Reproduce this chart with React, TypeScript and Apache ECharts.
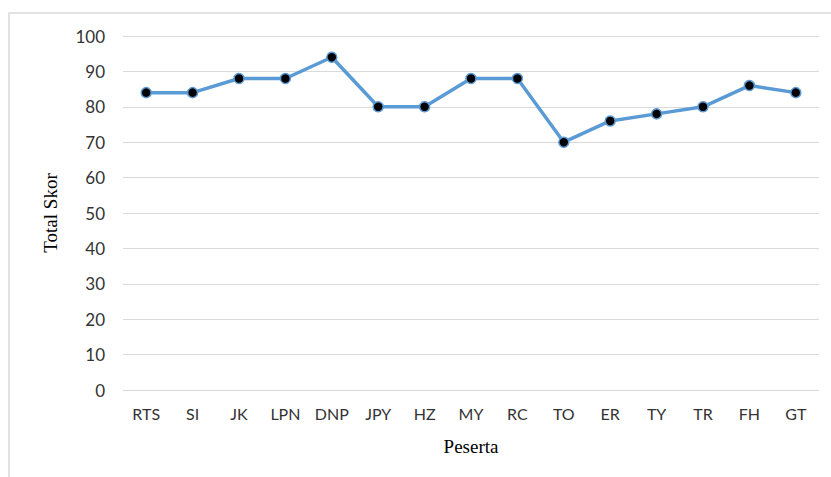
import React, { useEffect, useRef } from "react";
import * as echarts from "echarts";

const categories = ["RTS", "SI", "JK", "LPN", "DNP", "JPY", "HZ", "MY", "RC", "TO", "ER", "TY", "TR", "FH", "GT"];
const scores = [84, 84, 88, 88, 94, 80, 80, 88, 88, 70, 76, 78, 80, 86, 84];
const yMin = 0;
const yMax = 100;
const yInterval = 10;

export default function App() {
  const ref = useRef<HTMLDivElement>(null);
  useEffect(() => {
    document.body.style.margin = "0";
    if (!ref.current) return;
    const chart = echarts.init(ref.current, undefined, { renderer: "svg" });
    chart.setOption({
      animation: false,
      backgroundColor: "#ffffff",
      grid: { left: 123, right: 12, top: 36, bottom: 87, containLabel: false },
      graphic: [
        {
          type: "rect",
          shape: { x: 9, y: 13, width: 830, height: 480 },
          style: { fill: "none", stroke: "#d9d9d9", lineWidth: 1.5 },
          silent: true,
        },
      ],
      xAxis: {
        type: "category",
        data: categories,
        boundaryGap: true,
        axisLine: { show: false },
        axisTick: { show: false },
        axisLabel: { color: "#333333", fontSize: 16, fontFamily: "Lato, 'Open Sans', sans-serif", margin: 15 },
        name: "Peserta",
        nameLocation: "middle",
        nameGap: 47,
        nameTextStyle: { color: "#000", fontSize: 19, fontFamily: "'Liberation Serif', 'DejaVu Serif', serif" },
      },
      yAxis: {
        type: "value",
        min: yMin,
        max: yMax,
        interval: yInterval,
        axisLine: { show: false },
        axisTick: { show: false },
        splitLine: { lineStyle: { color: "#d9d9d9", width: 1 } },
        axisLabel: { color: "#333333", fontSize: 17, fontFamily: "Lato, 'Open Sans', sans-serif", margin: 18 },
        name: "Total Skor",
        nameLocation: "middle",
        nameGap: 63,
        nameRotate: 90,
        nameTextStyle: { color: "#000", fontSize: 19, fontFamily: "'Liberation Serif', 'DejaVu Serif', serif" },
      },
      series: [
        {
          type: "line",
          data: scores,
          symbol: "circle",
          symbolSize: 10,
          lineStyle: { color: "#5b9bd5", width: 3.5 },
          itemStyle: { color: "#000000", borderColor: "#5b9bd5", borderWidth: 1.5 },
        },
      ],
    });
    return () => chart.dispose();
  }, []);
  return <div ref={ref} style={{ width: 831, height: 477 }} />;
}
